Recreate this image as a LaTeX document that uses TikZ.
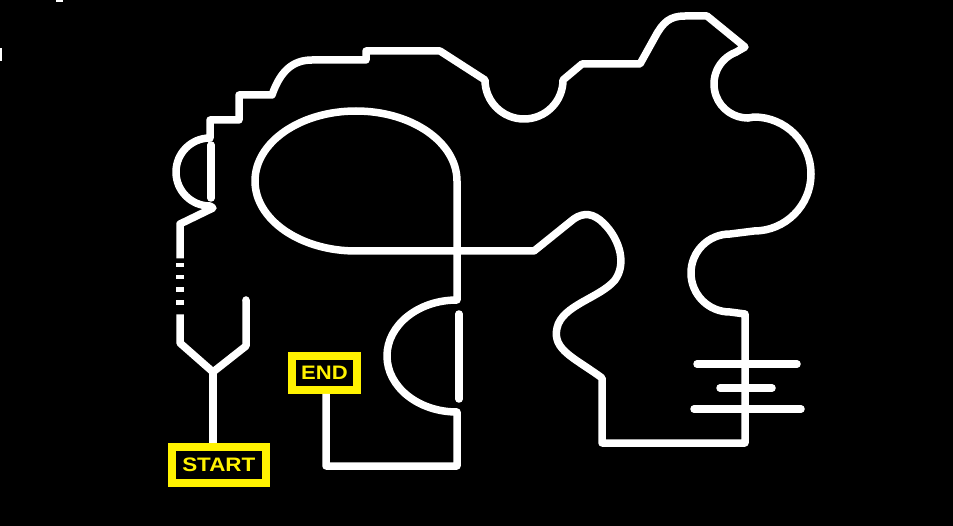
\documentclass[tikz,border=0pt]{standalone}
\usepackage{graphicx}
\usepackage{fontspec}
\setmainfont{Liberation Sans}
\begin{document}
\begin{tikzpicture}[x=1pt,y=-1pt,
  wall/.style={draw=white,line width=7.5pt,line join=round},
  roundwall/.style={wall,line cap=round},
  label/.style={draw=yellow,line width=8pt,fill=black,text=yellow,inner sep=0pt,
    font=\fontsize{19.5}{19.5}\selectfont\bfseries}]
\fill[black] (0,0) rectangle (953,526);
\useasboundingbox (0,0) rectangle (953,526);
% stray marks
\fill[white] (56,0) rectangle (63,2);
\fill[white] (0,48) rectangle (1.5,61);
% labels
\node[label,minimum width=94pt,minimum height=35.7pt] (start) at (218.8,464.7) {\scalebox{1.15}[1]{START}};
\node[label,minimum width=65pt,minimum height=34pt] (end) at (324.5,373) {\scalebox{1.13}[1]{END}};
% fork near start
\coordinate (fork) at (213,372);
\draw[wall] (fork) -- (fork |- start.north);
\draw[wall,line cap=butt] (180,314.3) -- (180,343) -- (fork) -- (246,346) -- (246,300);
\fill[white] (246,300) circle (3.75);
% dashes
\foreach \a/\b in {262.7/267.3, 275/279.3, 287.3/291.7, 300/305}
  \fill[white] (176.2,\a) rectangle (183.8,\b);
% chords
\draw[roundwall] (211,145) -- (211,198);
\draw[roundwall] (459,314) -- (459,399);
% bars
\draw[roundwall] (697,364) -- (797,364);
\draw[roundwall] (720,388) -- (772,388);
\draw[roundwall] (694,409) -- (801,409);
% main wall
\coordinate (c1) at (326,466);
\draw[wall,line cap=butt] (180,258.3) -- (180,224) -- (213,208) -- (210,206)
  arc[start angle=90,end angle=270,radius=34]
  -- (210,120) -- (239,120) -- (239,95) -- (272,95)
  .. controls (280,72) and (292,60) .. (312,60)
  -- (366,60) -- (366,51) -- (440,51) -- (485,80)
  arc[start angle=180,end angle=0,radius=39]
  -- (582,64) -- (640,64) -- (655,37)
  .. controls (663,22) and (670,16) .. (685,16)
  -- (707,16) -- (745,47) -- (735.8,52.3)
  arc[start angle=249,end angle=90,radius=34]
  -- (754,117)
  arc[start angle=-90,end angle=90,radius=57]
  -- (730,234)
  arc[start angle=-90,end angle=-270,radius=39]
  -- (745,314) -- (745,443) -- (602,443) -- (602,378)
  .. controls (575,358) and (552,350) .. (557,328)
  .. controls (562,305) and (600,298) .. (615,280)
  .. controls (628,262) and (618,235) .. (600,220)
  .. controls (590,212) and (580,213) .. (570,222)
  -- (534,251) -- (356,251)
  arc[start angle=90,end angle=360,x radius=101,y radius=70]
  -- (457,300)
  arc[start angle=270,end angle=90,x radius=70,y radius=56]
  -- (457,466) -- (c1) -- (c1 |- end.south);
\end{tikzpicture}
\end{document}
